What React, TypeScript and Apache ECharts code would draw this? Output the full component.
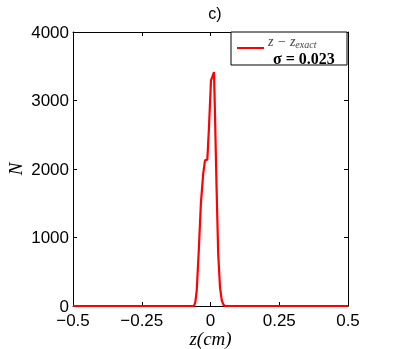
import React, { useEffect, useRef } from "react";
import * as echarts from "echarts";

const zValues = [-0.5, -0.0625, -0.059, -0.055, -0.05, -0.042, -0.035, -0.0265, -0.02, -0.0115, -0.0055, 0.0018, 0.0065, 0.0127, 0.016, 0.022, 0.028, 0.0345, 0.041, 0.047, 0.053, 0.5];
const nValues = [0, 0, 10, 60, 229, 861, 1495, 1933, 2127, 2137, 2613, 3295, 3343, 3416, 2857, 1737, 765, 277, 83, 20, 0, 0];
const xTicks = [-0.5, -0.25, 0, 0.25, 0.5];
const yTicks = [0, 1000, 2000, 3000, 4000];
const titleText = "c)";
const sigmaText = "σ = 0.023";

export default function App() {
  const ref = useRef<HTMLDivElement>(null);
  useEffect(() => {
    if (!ref.current) return;
    const chart = echarts.init(ref.current, undefined, { renderer: "svg" });
    const sans = "Liberation Sans";
    const serif = "Liberation Serif";
    const fmtX = (v: number) => {
      const s = String(Math.abs(v));
      return v < 0 ? "\u2212" + s : s;
    };
    const fmtY = (v: number) => String(v);
    const tickCommon = { show: true, inside: true, length: 4, lineStyle: { color: "#000" } };
    chart.setOption({
      animation: false,
      title: {
        text: titleText,
        left: 210,
        textAlign: "center",
        top: 0,
        textStyle: { fontFamily: sans, fontSize: 16, fontWeight: "normal", color: "#000" },
      },
      grid: { left: 73, right: 59, top: 32, bottom: 43, containLabel: false, outerBoundsMode: "none" },
      xAxis: [
        {
          type: "value",
          min: xTicks[0],
          max: xTicks[xTicks.length - 1],
          interval: 0.25,
          axisLine: { show: true, onZero: false, lineStyle: { color: "#000", width: 1 } },
          axisTick: tickCommon,
          splitLine: { show: false },
          axisLabel: { formatter: fmtX, fontFamily: sans, fontSize: 17, color: "#000", margin: 6, showMinLabel: true, showMaxLabel: true, hideOverlap: false },
          name: "z(cm)",
          nameLocation: "middle",
          nameGap: 23,
          nameMoveOverlap: false,
          nameTextStyle: { fontFamily: serif, fontStyle: "italic", fontSize: 19, color: "#000" },
        },
        {
          type: "value",
          position: "top",
          min: xTicks[0],
          max: xTicks[xTicks.length - 1],
          interval: 0.25,
          axisLine: { show: true, onZero: false, lineStyle: { color: "#000", width: 1 } },
          axisTick: tickCommon,
          splitLine: { show: false },
          axisLabel: { show: false },
        },
      ],
      yAxis: [
        {
          type: "value",
          min: yTicks[0],
          max: yTicks[yTicks.length - 1],
          interval: 1000,
          axisLine: { show: true, onZero: false, lineStyle: { color: "#000", width: 1 } },
          axisTick: tickCommon,
          splitLine: { show: false },
          axisLabel: { formatter: fmtY, fontFamily: sans, fontSize: 17, color: "#000", margin: 4, showMinLabel: true, showMaxLabel: true, hideOverlap: false },
          name: "N",
          nameLocation: "middle",
          nameRotate: 90,
          nameGap: 48,
          nameMoveOverlap: false,
          nameTextStyle: { fontFamily: serif, fontStyle: "italic", fontSize: 19, color: "#000" },
        },
        {
          type: "value",
          position: "right",
          min: yTicks[0],
          max: yTicks[yTicks.length - 1],
          interval: 1000,
          axisLine: { show: true, onZero: false, lineStyle: { color: "#000", width: 1 } },
          axisTick: tickCommon,
          splitLine: { show: false },
          axisLabel: { show: false },
        },
      ],
      series: [
        {
          type: "line",
          xAxisIndex: 0,
          yAxisIndex: 0,
          data: zValues.map((z, i) => [z, nValues[i]]),
          showSymbol: false,
          lineStyle: { color: "#ff0000", width: 2.2 },
          itemStyle: { color: "#ff0000" },
        },
      ],
      graphic: [
        {
          type: "rect",
          shape: { x: 231, y: 32, width: 116, height: 33 },
          style: { fill: "#fff", stroke: "#000", lineWidth: 1 },
          z: 100,
        },
        {
          type: "line",
          shape: { x1: 237, y1: 48, x2: 264, y2: 48 },
          style: { stroke: "#ff0000", lineWidth: 2 },
          z: 101,
        },
        {
          type: "text",
          x: 268,
          y: 41,
          z: 101,
          style: {
            text: "{a|z − z}{b|exact}",
            verticalAlign: "middle",
            rich: {
              a: { fontFamily: serif, fontStyle: "italic", fontSize: 14, fill: "#444" },
              b: { fontFamily: serif, fontStyle: "italic", fontSize: 10, fill: "#444", padding: [6, 0, 0, 0] },
            },
          },
        },
        {
          type: "text",
          x: 273,
          y: 58,
          z: 101,
          style: {
            text: sigmaText,
            verticalAlign: "middle",
            fontFamily: serif,
            fontWeight: "bold",
            fontSize: 16,
            fill: "#000",
          },
        },
      ],
    });
    return () => chart.dispose();
  }, []);
  return <div ref={ref} style={{ position: "fixed", left: 0, top: 0, width: 407, height: 349 }} />;
}
